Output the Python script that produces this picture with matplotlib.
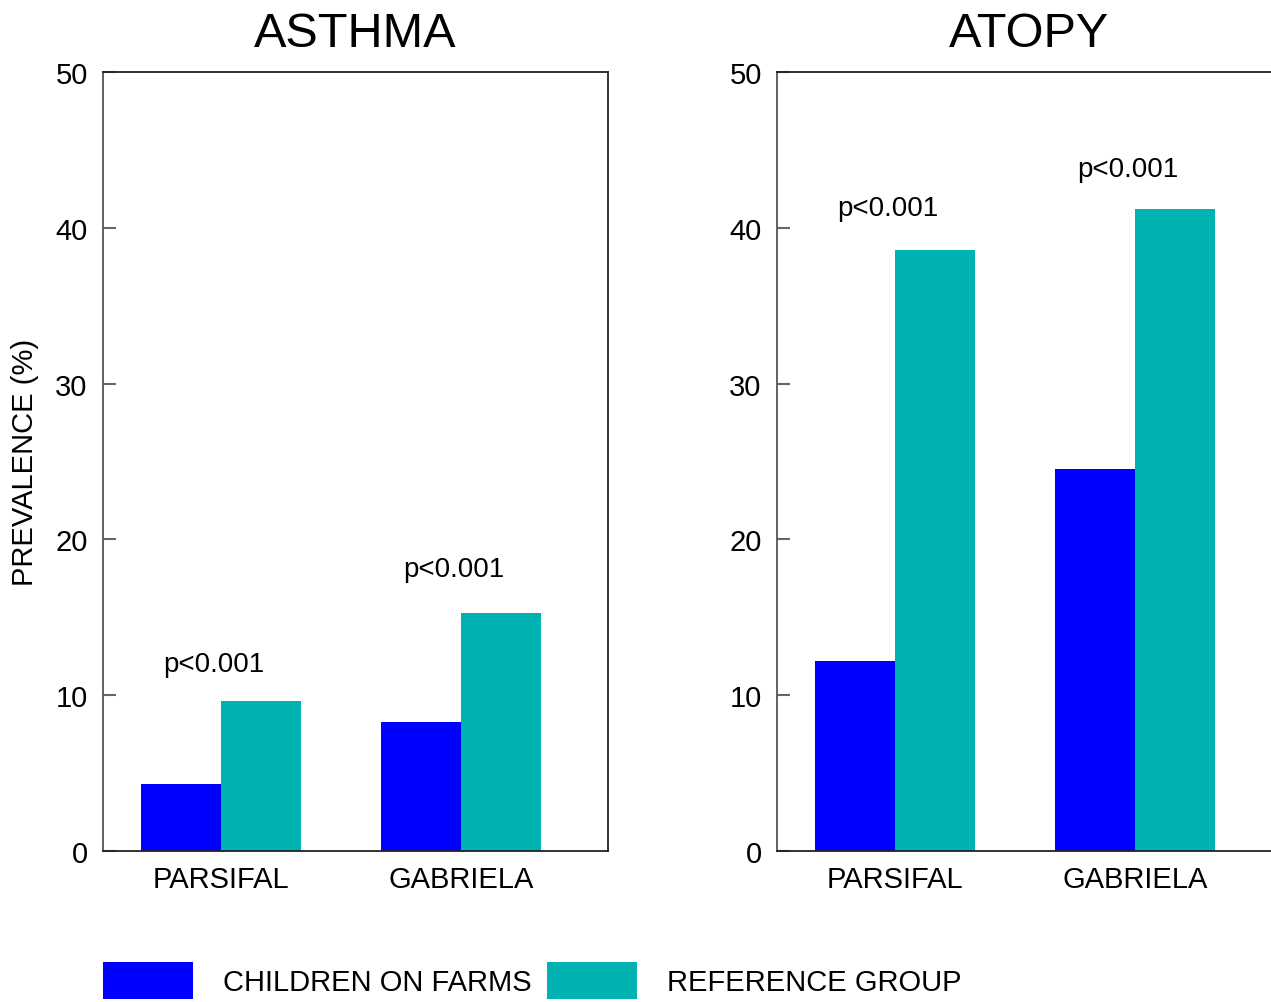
import matplotlib.pyplot as plt
import matplotlib as mpl
from matplotlib.patches import Patch
import numpy as np

mpl.rcParams['font.family'] = ['Liberation Sans', 'DejaVu Sans']

# data
studies = ['PARSIFAL', 'GABRIELA']
groups = ['CHILDREN ON FARMS', 'REFERENCE GROUP']
asthma_farm = [4.3, 8.3]
asthma_ref = [9.6, 15.3]
atopy_farm = [12.2, 24.5]
atopy_ref = [38.6, 41.2]
p_labels = ['p<0.001', 'p<0.001']
asthma_p_y = [12.0, 18.1]
atopy_p_y = [41.3, 43.8]

col_farm = '#0000ff'
col_ref = '#00b2b2'

dpi = 100
fig = plt.figure(dpi=dpi, figsize=(1271 / dpi, 1003 / dpi))

ax1 = fig.add_axes([103 / 1271, 151 / 1003, 505 / 1271, 779 / 1003])
ax2 = fig.add_axes([777 / 1271, 151 / 1003, 505 / 1271, 779 / 1003])

x = np.arange(len(studies))
w = 1 / 3


def draw(ax, title, farm, ref, p_y):
    ax.bar(x - w / 2, farm, w, color=col_farm, edgecolor='none')
    ax.bar(x + w / 2, ref, w, color=col_ref, edgecolor='none')
    for xi, yi, lab in zip(x, p_y, p_labels):
        ax.text(xi - 0.03, yi, lab, ha='center', va='center', fontsize=20)
    ax.set_xlim(-0.49, 1.6125)
    ax.set_ylim(0, 50)
    ax.set_yticks([0, 10, 20, 30, 40, 50])
    ax.tick_params(axis='y', direction='in', length=9, width=1.5,
                   color='#666666', labelsize=21, pad=11)
    ax.set_xticks(x)
    ax.set_xticklabels(studies, fontsize=21)
    ax.tick_params(axis='x', length=0, pad=10)
    ax.set_title(title, fontsize=35, pad=19)
    for s in ax.spines.values():
        s.set_linewidth(1.3)
        s.set_color('#222222')
    ax.spines['left'].set_color('#555555')


draw(ax1, 'ASTHMA', asthma_farm, asthma_ref, asthma_p_y)
draw(ax2, 'ATOPY', atopy_farm, atopy_ref, atopy_p_y)

# tick labels sit a little below their ticks in the original
for ax in (ax1, ax2):
    for lab in ax.get_yticklabels():
        lab.set_va('center_baseline')

ax1.set_ylabel('PREVALENCE (%)', fontsize=21, labelpad=12)

handles = [Patch(facecolor=col_farm, edgecolor='none'),
           Patch(facecolor=col_ref, edgecolor='none')]
fig.legend(handles, groups, loc='lower left', bbox_to_anchor=(103 / 1271, 3 / 1003),
           ncol=2, frameon=False, fontsize=21, handlelength=3.07, borderpad=0,
           borderaxespad=0, handleheight=1.6, handletextpad=1.03,
           columnspacing=0.55)

fig.savefig('out.png', dpi=dpi)
